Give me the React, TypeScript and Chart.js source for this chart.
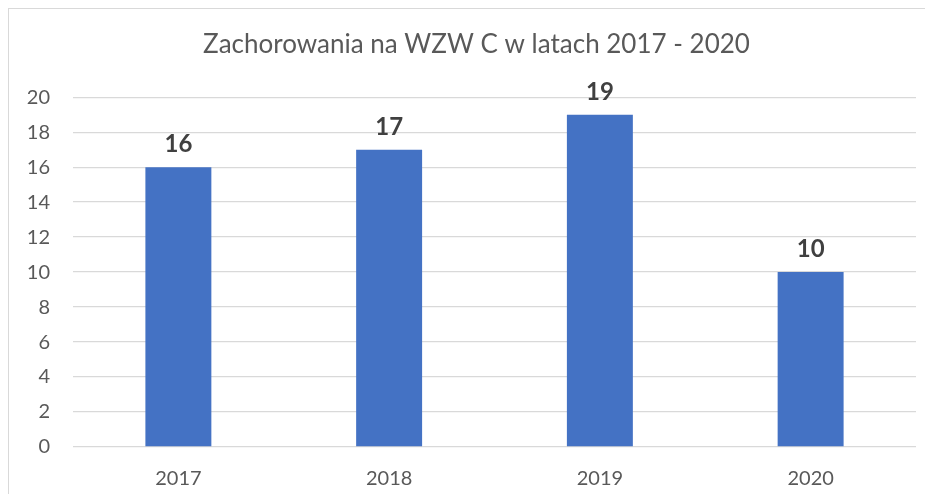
import React, { useEffect, useRef } from "react";
import { Chart, registerables } from "chart.js";

Chart.register(...registerables);

const TITLE = "Zachorowania na WZW C w latach 2017 - 2020";
const categories = ["2017", "2018", "2019", "2020"];
const values = [16, 17, 19, 10];
const yMin = 0;
const yMax = 20;
const yStep = 2;

const FONT = "Lato, 'Open Sans', sans-serif";

const dataLabelPlugin = {
  id: "dataLabels",
  afterDatasetsDraw(chart: any) {
    const ctx = chart.ctx;
    const meta = chart.getDatasetMeta(0);
    ctx.save();
    ctx.font = `bold 24px ${FONT}`;
    ctx.fillStyle = "#404040";
    ctx.textAlign = "center";
    ctx.textBaseline = "alphabetic";
    meta.data.forEach((bar: any, i: number) => {
      ctx.fillText(String(values[i]), bar.x, bar.y - 15);
    });
    ctx.restore();
  },
};

// shift the title box so it centres like the original chart (box wider than view)
const titleShiftPlugin = {
  id: "titleShift",
  afterLayout(chart: any) {
    const t = chart.titleBlock;
    if (t) {
      t.left = 28;
      t.width = t.right - t.left;
    }
  },
};

export default function App() {
  const ref = useRef<HTMLCanvasElement>(null);

  useEffect(() => {
    if (!ref.current) return;
    const chart = new Chart(ref.current, {
      type: "bar",
      data: {
        labels: categories,
        datasets: [
          {
            data: values,
            backgroundColor: "#4472c4",
            borderWidth: 0,
            barPercentage: 0.313,
            categoryPercentage: 1,
          },
        ],
      },
      options: {
        animation: false,
        responsive: false,
        maintainAspectRatio: false,
        layout: { padding: { left: 0, right: 17, top: 0, bottom: 0 } },
        plugins: {
          legend: { display: false },
          tooltip: { enabled: false },
          title: {
            display: true,
            text: TITLE,
            color: "#595959",
            font: { family: FONT, size: 26, weight: "normal" as any },
            padding: { top: 20, bottom: 37 },
          },
        },
        scales: {
          x: {
            grid: { display: false, drawTicks: false },
            border: { display: false },
            ticks: {
              color: "#595959",
              font: { family: FONT, size: 20 },
              padding: 20,
            },
            afterFit: (scale: any) => {
              scale.height = 47;
            },
          },
          y: {
            min: yMin,
            max: yMax,
            grid: { color: "#d9d9d9", lineWidth: 1.3, drawTicks: false },
            border: { display: false },
            ticks: {
              stepSize: yStep,
              color: "#595959",
              font: { family: FONT, size: 20 },
              padding: 23,
            },
            afterFit: (scale: any) => {
              scale.width = 64;
            },
          },
        },
      },
      plugins: [titleShiftPlugin, dataLabelPlugin],
    });
    return () => chart.destroy();
  }, []);

  return (
    <div
      style={{
        width: 925,
        height: 486,
        boxSizing: "border-box",
        borderLeft: "1px solid #d9d9d9",
        borderTop: "1px solid #d9d9d9",
        overflow: "hidden",
      }}
    >
      <canvas ref={ref} width={924} height={485} style={{ display: "block" }} />
    </div>
  );
}
